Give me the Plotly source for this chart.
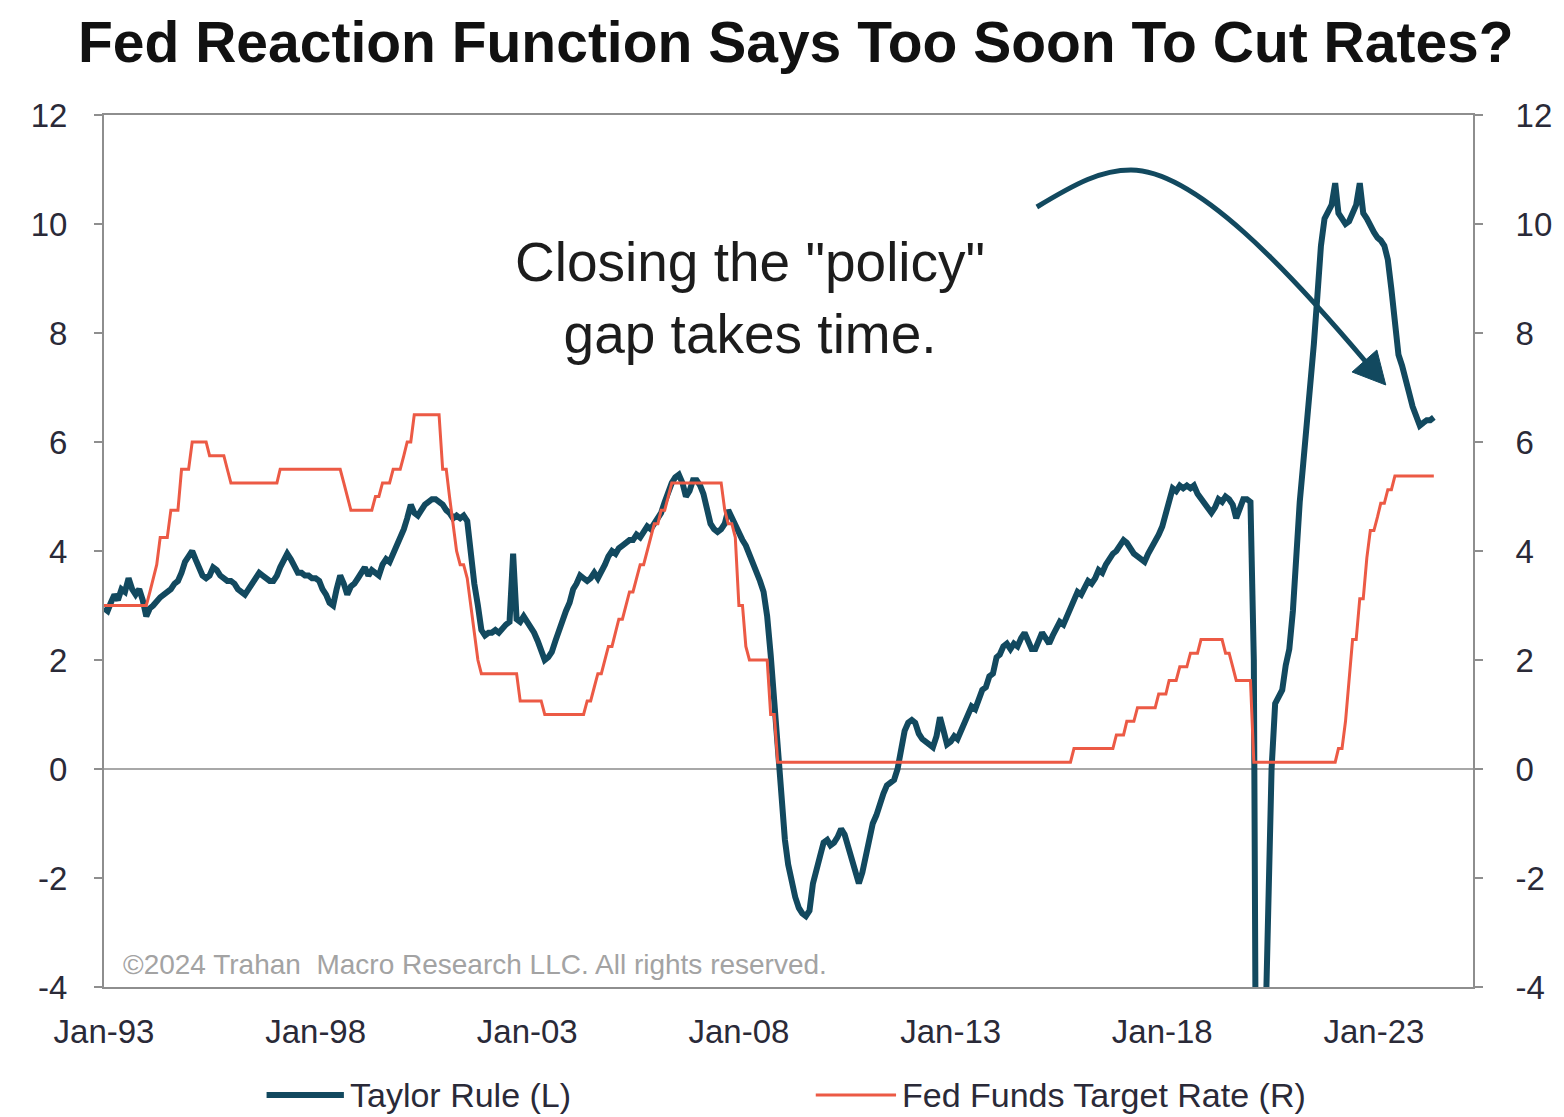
import pandas as pd
import plotly.graph_objects as go

# ---------------------------------------------------------------------------
# Monthly data, Jan-1993 .. Jun-2024 (12 values per row, one row per year)
# ---------------------------------------------------------------------------
months = pd.date_range("1993-01-01", periods=378, freq="MS")

taylor_rule = [
    2.95, 2.90, 3.05, 3.20, 3.10, 3.30, 3.25, 3.50, 3.30, 3.20, 3.30, 3.10,   # 1993
    2.80, 2.95, 3.00, 3.10, 3.15, 3.20, 3.25, 3.30, 3.40, 3.45, 3.60, 3.80,   # 1994
    3.90, 4.00, 3.85, 3.70, 3.55, 3.50, 3.55, 3.70, 3.65, 3.55, 3.50, 3.45,   # 1995
    3.45, 3.40, 3.30, 3.25, 3.20, 3.30, 3.40, 3.50, 3.60, 3.55, 3.50, 3.45,   # 1996
    3.45, 3.55, 3.70, 3.85, 3.95, 3.85, 3.75, 3.60, 3.60, 3.55, 3.55, 3.50,   # 1997
    3.50, 3.45, 3.30, 3.20, 3.05, 3.00, 3.30, 3.55, 3.40, 3.20, 3.35, 3.40,   # 1998
    3.50, 3.60, 3.70, 3.55, 3.65, 3.60, 3.55, 3.75, 3.85, 3.80, 3.95, 4.10,   # 1999
    4.20, 4.40, 4.60, 4.85, 4.70, 4.65, 4.75, 4.85, 4.90, 4.95, 4.95, 4.90,   # 2000
    4.85, 4.75, 4.70, 4.60, 4.65, 4.60, 4.65, 4.55, 3.90, 3.40, 3.00, 2.55,   # 2001
    2.45, 2.50, 2.50, 2.55, 2.50, 2.60, 2.65, 2.70, 3.95, 2.75, 2.70, 2.80,   # 2002
    2.70, 2.60, 2.50, 2.35, 2.20, 2.00, 2.05, 2.15, 2.35, 2.55, 2.75, 2.90,   # 2003
    3.05, 3.30, 3.40, 3.55, 3.50, 3.45, 3.50, 3.60, 3.50, 3.60, 3.75, 3.90,   # 2004
    4.00, 3.95, 4.05, 4.10, 4.15, 4.20, 4.20, 4.30, 4.25, 4.35, 4.45, 4.40,   # 2005
    4.50, 4.60, 4.70, 4.90, 5.10, 5.25, 5.35, 5.40, 5.25, 5.00, 5.10, 5.30,   # 2006
    5.30, 5.20, 5.05, 4.75, 4.50, 4.40, 4.35, 4.40, 4.50, 4.75, 4.60, 4.45,   # 2007
    4.30, 4.20, 4.10, 3.95, 3.80, 3.65, 3.45, 3.25, 2.80, 2.10, 1.20, 0.20,   # 2008
    -0.60, -1.30, -1.75, -2.10, -2.35, -2.55, -2.65, -2.70, -2.60, -2.10, -1.80, -1.60,  # 2009
    -1.35, -1.30, -1.40, -1.35, -1.25, -1.10, -1.20, -1.45, -1.60, -1.90, -2.10, -1.90,  # 2010
    -1.60, -1.30, -1.00, -0.85, -0.60, -0.45, -0.30, -0.25, -0.20, 0.00, 0.30, 0.70,     # 2011
    0.85, 0.90, 0.85, 0.65, 0.55, 0.50, 0.45, 0.40, 0.60, 0.95, 0.70, 0.45,   # 2012
    0.50, 0.60, 0.55, 0.70, 0.80, 0.95, 1.15, 1.10, 1.30, 1.45, 1.50, 1.70,   # 2013
    1.75, 2.05, 2.10, 2.25, 2.30, 2.20, 2.30, 2.25, 2.40, 2.50, 2.35, 2.20,   # 2014
    2.20, 2.35, 2.50, 2.40, 2.30, 2.45, 2.60, 2.70, 2.65, 2.80, 2.90, 3.05,   # 2015
    3.25, 3.20, 3.35, 3.45, 3.40, 3.50, 3.65, 3.60, 3.75, 3.85, 3.95, 4.00,   # 2016
    4.10, 4.20, 4.15, 4.05, 3.95, 3.90, 3.85, 3.80, 3.95, 4.05, 4.15, 4.30,   # 2017
    4.45, 4.70, 4.95, 5.15, 5.10, 5.20, 5.15, 5.20, 5.15, 5.20, 5.05, 4.95,   # 2018
    4.85, 4.75, 4.70, 4.80, 4.95, 4.90, 5.00, 4.95, 4.85, 4.60, 4.75, 4.95,   # 2019
    4.95, 4.90, 2.00, -12.0, -9.00, -5.50, -2.30, 0.00, 1.20, 1.35, 1.45, 1.90,  # 2020
    2.20, 2.90, 3.90, 4.90, 5.60, 6.30, 6.90, 7.80, 8.70, 9.60, 10.10, 10.25,  # 2021
    10.35, 10.75, 10.20, 10.10, 10.00, 10.05, 10.20, 10.35, 10.75, 10.20, 10.10, 9.95,  # 2022
    9.85, 9.75, 9.70, 9.60, 9.35, 8.80, 8.20, 7.60, 7.40, 7.10, 6.90, 6.65,   # 2023
    6.50, 6.30, 6.35, 6.40, 6.40, 6.45,                                       # 2024
]

fed_funds_target = [
    3.00, 3.00, 3.00, 3.00, 3.00, 3.00, 3.00, 3.00, 3.00, 3.00, 3.00, 3.00,   # 1993
    3.00, 3.25, 3.50, 3.75, 4.25, 4.25, 4.25, 4.75, 4.75, 4.75, 5.50, 5.50,   # 1994
    5.50, 6.00, 6.00, 6.00, 6.00, 6.00, 5.75, 5.75, 5.75, 5.75, 5.75, 5.50,   # 1995
    5.25, 5.25, 5.25, 5.25, 5.25, 5.25, 5.25, 5.25, 5.25, 5.25, 5.25, 5.25,   # 1996
    5.25, 5.25, 5.50, 5.50, 5.50, 5.50, 5.50, 5.50, 5.50, 5.50, 5.50, 5.50,   # 1997
    5.50, 5.50, 5.50, 5.50, 5.50, 5.50, 5.50, 5.50, 5.25, 5.00, 4.75, 4.75,   # 1998
    4.75, 4.75, 4.75, 4.75, 4.75, 5.00, 5.00, 5.25, 5.25, 5.25, 5.50, 5.50,   # 1999
    5.50, 5.75, 6.00, 6.00, 6.50, 6.50, 6.50, 6.50, 6.50, 6.50, 6.50, 6.50,   # 2000
    5.50, 5.50, 5.00, 4.50, 4.00, 3.75, 3.75, 3.50, 3.00, 2.50, 2.00, 1.75,   # 2001
    1.75, 1.75, 1.75, 1.75, 1.75, 1.75, 1.75, 1.75, 1.75, 1.75, 1.25, 1.25,   # 2002
    1.25, 1.25, 1.25, 1.25, 1.25, 1.00, 1.00, 1.00, 1.00, 1.00, 1.00, 1.00,   # 2003
    1.00, 1.00, 1.00, 1.00, 1.00, 1.25, 1.25, 1.50, 1.75, 1.75, 2.00, 2.25,   # 2004
    2.25, 2.50, 2.75, 2.75, 3.00, 3.25, 3.25, 3.50, 3.75, 3.75, 4.00, 4.25,   # 2005
    4.50, 4.50, 4.75, 4.75, 5.00, 5.25, 5.25, 5.25, 5.25, 5.25, 5.25, 5.25,   # 2006
    5.25, 5.25, 5.25, 5.25, 5.25, 5.25, 5.25, 5.25, 4.75, 4.50, 4.50, 4.25,   # 2007
    3.00, 3.00, 2.25, 2.00, 2.00, 2.00, 2.00, 2.00, 2.00, 1.00, 1.00, 0.125,  # 2008
    0.125, 0.125, 0.125, 0.125, 0.125, 0.125, 0.125, 0.125, 0.125, 0.125, 0.125, 0.125,  # 2009
    0.125, 0.125, 0.125, 0.125, 0.125, 0.125, 0.125, 0.125, 0.125, 0.125, 0.125, 0.125,  # 2010
    0.125, 0.125, 0.125, 0.125, 0.125, 0.125, 0.125, 0.125, 0.125, 0.125, 0.125, 0.125,  # 2011
    0.125, 0.125, 0.125, 0.125, 0.125, 0.125, 0.125, 0.125, 0.125, 0.125, 0.125, 0.125,  # 2012
    0.125, 0.125, 0.125, 0.125, 0.125, 0.125, 0.125, 0.125, 0.125, 0.125, 0.125, 0.125,  # 2013
    0.125, 0.125, 0.125, 0.125, 0.125, 0.125, 0.125, 0.125, 0.125, 0.125, 0.125, 0.125,  # 2014
    0.125, 0.125, 0.125, 0.125, 0.125, 0.125, 0.125, 0.125, 0.125, 0.125, 0.125, 0.375,  # 2015
    0.375, 0.375, 0.375, 0.375, 0.375, 0.375, 0.375, 0.375, 0.375, 0.375, 0.375, 0.625,  # 2016
    0.625, 0.625, 0.875, 0.875, 0.875, 1.125, 1.125, 1.125, 1.125, 1.125, 1.125, 1.375,  # 2017
    1.375, 1.375, 1.625, 1.625, 1.625, 1.875, 1.875, 1.875, 2.125, 2.125, 2.125, 2.375,  # 2018
    2.375, 2.375, 2.375, 2.375, 2.375, 2.375, 2.125, 2.125, 1.875, 1.625, 1.625, 1.625,  # 2019
    1.625, 1.625, 0.125, 0.125, 0.125, 0.125, 0.125, 0.125, 0.125, 0.125, 0.125, 0.125,  # 2020
    0.125, 0.125, 0.125, 0.125, 0.125, 0.125, 0.125, 0.125, 0.125, 0.125, 0.125, 0.125,  # 2021
    0.125, 0.125, 0.375, 0.375, 0.875, 1.625, 2.375, 2.375, 3.125, 3.125, 3.875, 4.375,  # 2022
    4.375, 4.625, 4.875, 4.875, 5.125, 5.125, 5.375, 5.375, 5.375, 5.375, 5.375, 5.375,  # 2023
    5.375, 5.375, 5.375, 5.375, 5.375, 5.375,                                            # 2024
]

tick_dates = ["1993-01-01", "1998-01-01", "2003-01-01", "2008-01-01",
              "2013-01-01", "2018-01-01", "2023-01-01"]
tick_labels = ["Jan-93", "Jan-98", "Jan-03", "Jan-08", "Jan-13", "Jan-18", "Jan-23"]
y_ticks = [-4, -2, 0, 2, 4, 6, 8, 10, 12]
y_tick_labels = ["-4", "-2", "0", "2", "4", "6", "8", "10", "12"]

TEAL = "#12495f"
RED = "#ec5a45"
AXIS_GREY = "#8e8e8e"
LABEL_COLOR = "#2a2a38"
FONT = "Liberation Sans, Arial, sans-serif"

W, H = 1564, 1117
L, R, T, B = 104, 79, 115, 130
PW, PH = W - L - R, H - T - B


def px_x(px):
    """Page pixel x -> paper coordinate."""
    return (px - L) / PW


def px_y(py):
    """Page pixel y -> paper coordinate."""
    return (H - B - py) / PH


fig = go.Figure()

fig.add_trace(go.Scatter(
    x=months, y=taylor_rule, mode="lines", name="Taylor Rule (L)",
    line=dict(color=TEAL, width=6), yaxis="y", showlegend=False,
))
fig.add_trace(go.Scatter(
    x=months[:len(fed_funds_target)], y=fed_funds_target, mode="lines",
    name="Fed Funds Target Rate (R)",
    line=dict(color=RED, width=3), yaxis="y2", showlegend=False,
))

axis_common = dict(
    range=[-4, 12], tickvals=y_ticks, ticktext=y_tick_labels,
    ticks="outside", ticklen=8, tickwidth=2,
    tickcolor=AXIS_GREY, showline=True, linecolor=AXIS_GREY, linewidth=2,
    showgrid=False, tickfont=dict(family=FONT, size=33, color=LABEL_COLOR),
)

fig.update_layout(
    width=W, height=H,
    margin=dict(l=L, r=R, t=T, b=B, pad=0),
    paper_bgcolor="white", plot_bgcolor="white",
    xaxis=dict(
        type="date", range=["1993-01-01", "2025-05-05"],
        tickvals=tick_dates, ticktext=tick_labels, ticks="",
        showline=True, mirror=True, linecolor=AXIS_GREY, linewidth=2,
        showgrid=False, zeroline=False, ticklabelstandoff=14,
        tickfont=dict(family=FONT, size=33, color=LABEL_COLOR),
    ),
    yaxis=dict(**axis_common, side="left", zeroline=True,
               zerolinecolor="#a8a8a8", zerolinewidth=2,
               ticklabelstandoff=20),
    yaxis2=dict(**axis_common, side="right", overlaying="y", zeroline=False,
                ticklabelstandoff=26),
)

# Title
fig.add_annotation(
    text="<b>Fed Reaction Function Says Too Soon To Cut Rates?</b>",
    xref="paper", yref="paper", x=px_x(802), y=px_y(42),
    xanchor="center", yanchor="middle", showarrow=False,
    font=dict(family=FONT, size=57, color="#111111"),
)

# Callout text
fig.add_annotation(
    text='Closing the "policy"<br>gap takes time.',
    xref="paper", yref="paper", x=px_x(756), y=px_y(298),
    xanchor="center", yanchor="middle", align="center", showarrow=False,
    font=dict(family=FONT, size=55, color="#1c1c1c"),
)

# Copyright line inside the plot
fig.add_annotation(
    text="©2024 Trahan  Macro Research LLC. All rights reserved.",
    xref="paper", yref="paper", x=px_x(121), y=px_y(964),
    xanchor="left", yanchor="middle", showarrow=False,
    font=dict(family=FONT, size=28, color="#a3a3a3"),
)

# Curved arrow pointing at the recent decline
def pt(x, y):
    return f"{px_x(x):.5f},{px_y(y):.5f}"

curve = (f"M {pt(1045, 207)} C {pt(1085, 183)} {pt(1110, 170)} {pt(1140, 170)} "
         f"C {pt(1205, 170)} {pt(1300, 272)} {pt(1377, 362)}")
fig.add_shape(type="path", path=curve, xref="paper", yref="paper",
              line=dict(color=TEAL, width=5), layer="above")
head = f"M {pt(1397, 385)} L {pt(1363, 372)} L {pt(1388, 350)} Z"
fig.add_shape(type="path", path=head, xref="paper", yref="paper",
              line=dict(color=TEAL, width=1), fillcolor=TEAL, layer="above")

# Legend drawn below the axis
legend_y = px_y(1095)
fig.add_shape(type="line", xref="paper", yref="paper",
              x0=px_x(268), x1=px_x(346), y0=legend_y, y1=legend_y,
              line=dict(color=TEAL, width=6))
fig.add_annotation(text="Taylor Rule (L)", xref="paper", yref="paper",
                   x=px_x(350), y=legend_y, xanchor="left", yanchor="middle",
                   showarrow=False,
                   font=dict(family=FONT, size=34, color=LABEL_COLOR))
fig.add_shape(type="line", xref="paper", yref="paper",
              x0=px_x(822), x1=px_x(903), y0=legend_y, y1=legend_y,
              line=dict(color=RED, width=3))
fig.add_annotation(text="Fed Funds Target Rate (R)", xref="paper", yref="paper",
                   x=px_x(907), y=legend_y, xanchor="left", yanchor="middle",
                   showarrow=False,
                   font=dict(family=FONT, size=34, color=LABEL_COLOR))

fig.write_html("out.html")
